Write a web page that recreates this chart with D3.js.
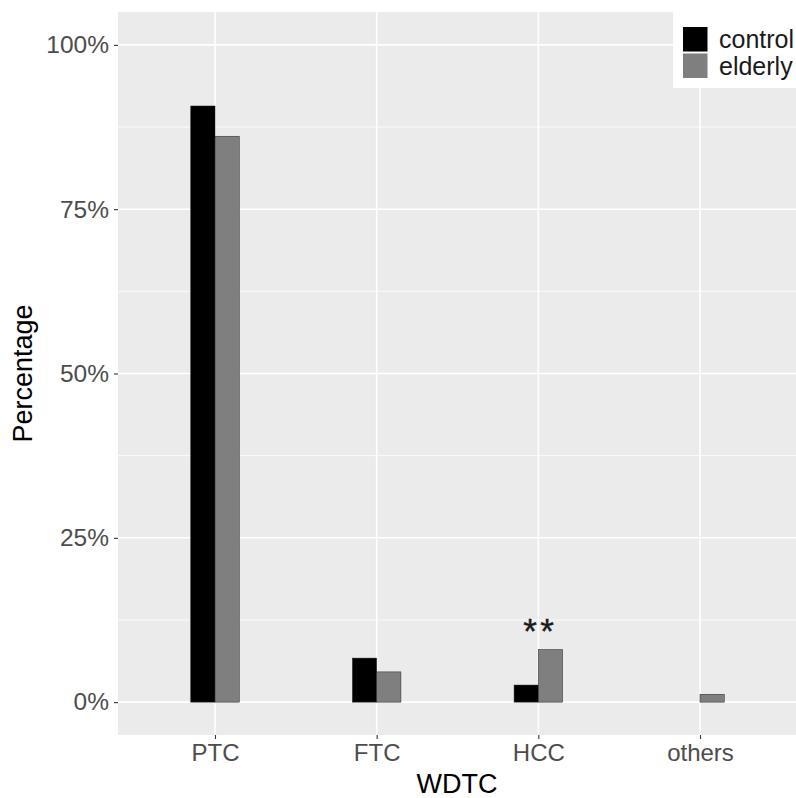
<!DOCTYPE html>
<html>
<head>
<meta charset="utf-8">
<script src="https://cdn.jsdelivr.net/npm/d3@7"></script>
<style>
  html, body { margin: 0; padding: 0; background: #fff; }
  svg { display: block; font-family: "Liberation Sans", Arial, sans-serif; }
</style>
</head>
<body>
<svg id="chart" width="796" height="798"></svg>
<script>
// Thyroid carcinoma subtypes (WDTC) by age group
const categories = ["PTC", "FTC", "HCC", "others"];
const groups = ["control", "elderly"];
const controlValues = [0.907, 0.067, 0.026, 0.0];
const elderlyValues = [0.861, 0.046, 0.080, 0.012];
const yTicks = [0, 0.25, 0.5, 0.75, 1.0];
const yMinorTicks = [0.125, 0.375, 0.625, 0.875];
const groupColors = ["#000000", "#7f7f7f"];
const significance = [{ category: "HCC", label: "**", at: 0.12 }];

const svg = d3.select("#chart");
const panel = { left: 118, right: 797, top: 12, bottom: 735 };

const x = d3.scalePoint().domain(categories).range([panel.left, panel.right]).padding(0.6);
const y = d3.scaleLinear().domain([-0.05, 1.05]).range([panel.bottom, panel.top]);
const barW = x.step() * 0.15;
const color = d3.scaleOrdinal().domain(groups).range(groupColors);

// panel background
svg.append("rect")
  .attr("x", panel.left).attr("y", panel.top)
  .attr("width", panel.right - panel.left).attr("height", panel.bottom - panel.top)
  .attr("fill", "#ebebeb");

// grid lines
const grid = svg.append("g");
grid.selectAll(".minor").data(yMinorTicks).join("line")
  .attr("x1", panel.left).attr("x2", panel.right)
  .attr("y1", d => y(d)).attr("y2", d => y(d))
  .attr("stroke", "#fff").attr("stroke-width", 0.8);
grid.selectAll(".major").data(yTicks).join("line")
  .attr("x1", panel.left).attr("x2", panel.right)
  .attr("y1", d => y(d)).attr("y2", d => y(d))
  .attr("stroke", "#fff").attr("stroke-width", 1.6);
grid.selectAll(".vmajor").data(categories).join("line")
  .attr("x1", d => x(d)).attr("x2", d => x(d))
  .attr("y1", panel.top).attr("y2", panel.bottom)
  .attr("stroke", "#fff").attr("stroke-width", 1.6);

// bars
const rows = [];
categories.forEach((c, i) => {
  rows.push({ category: c, group: "control", value: controlValues[i], offset: -1 });
  rows.push({ category: c, group: "elderly", value: elderlyValues[i], offset: 0 });
});
svg.append("g").selectAll("rect").data(rows.filter(d => d.value > 0)).join("rect")
  .attr("x", d => x(d.category) + d.offset * barW)
  .attr("width", barW)
  .attr("y", d => y(d.value))
  .attr("height", d => y(0) - y(d.value))
  .attr("fill", d => color(d.group))
  .attr("stroke", "#222").attr("stroke-width", 0.5);

// significance marks
svg.append("g").selectAll("text").data(significance).join("text")
  .attr("x", d => x(d.category) + 2)
  .attr("y", d => y(d.at) + 20)
  .attr("text-anchor", "middle")
  .attr("font-size", 35)
  .attr("letter-spacing", 3.5)
  .attr("fill", "#1a1a1a")
  .attr("stroke", "#1a1a1a").attr("stroke-width", 0.4)
  .text(d => d.label);

// y axis
const yAxis = d3.axisLeft(y).tickValues(yTicks).tickSize(4).tickPadding(5)
  .tickFormat(d3.format(".0%"));
const gy = svg.append("g").attr("transform", `translate(${panel.left},0)`).call(yAxis);
gy.select(".domain").remove();
gy.selectAll(".tick line").attr("stroke", "#333").attr("stroke-width", 1.1);
gy.selectAll(".tick text").attr("font-size", 24.5).attr("fill", "#4d4d4d")
  .attr("font-family", "Liberation Sans, Arial, sans-serif");

// x axis
const xAxis = d3.axisBottom(x).tickSize(4).tickPadding(5);
const gx = svg.append("g").attr("transform", `translate(0,${panel.bottom})`).call(xAxis);
gx.select(".domain").remove();
gx.selectAll(".tick line").attr("stroke", "#333").attr("stroke-width", 1.1);
gx.selectAll(".tick text").attr("font-size", 24).attr("fill", "#4d4d4d")
  .attr("font-family", "Liberation Sans, Arial, sans-serif");

// axis titles
svg.append("text")
  .attr("x", (panel.left + 796) / 2).attr("y", 793)
  .attr("text-anchor", "middle").attr("font-size", 27).attr("fill", "#000")
  .text("WDTC");
svg.append("text")
  .attr("transform", `translate(32,${(panel.top + panel.bottom) / 2}) rotate(-90)`)
  .attr("text-anchor", "middle").attr("font-size", 27).attr("fill", "#000")
  .text("Percentage");

// legend
const legend = svg.append("g").attr("transform", "translate(673,0)");
legend.append("rect").attr("x", 0).attr("y", 0).attr("width", 130).attr("height", 88)
  .attr("fill", "#fff");
const items = legend.selectAll("g").data(groups).join("g")
  .attr("transform", (d, i) => `translate(10,${27 + i * 26.5})`);
items.append("rect").attr("width", 24.5).attr("height", 24.5)
  .attr("fill", d => color(d));
items.append("text").attr("x", 36).attr("y", 12.5).attr("dy", "0.35em")
  .attr("font-size", 25).attr("fill", "#1a1a1a").text(d => d);
</script>
</body>
</html>
